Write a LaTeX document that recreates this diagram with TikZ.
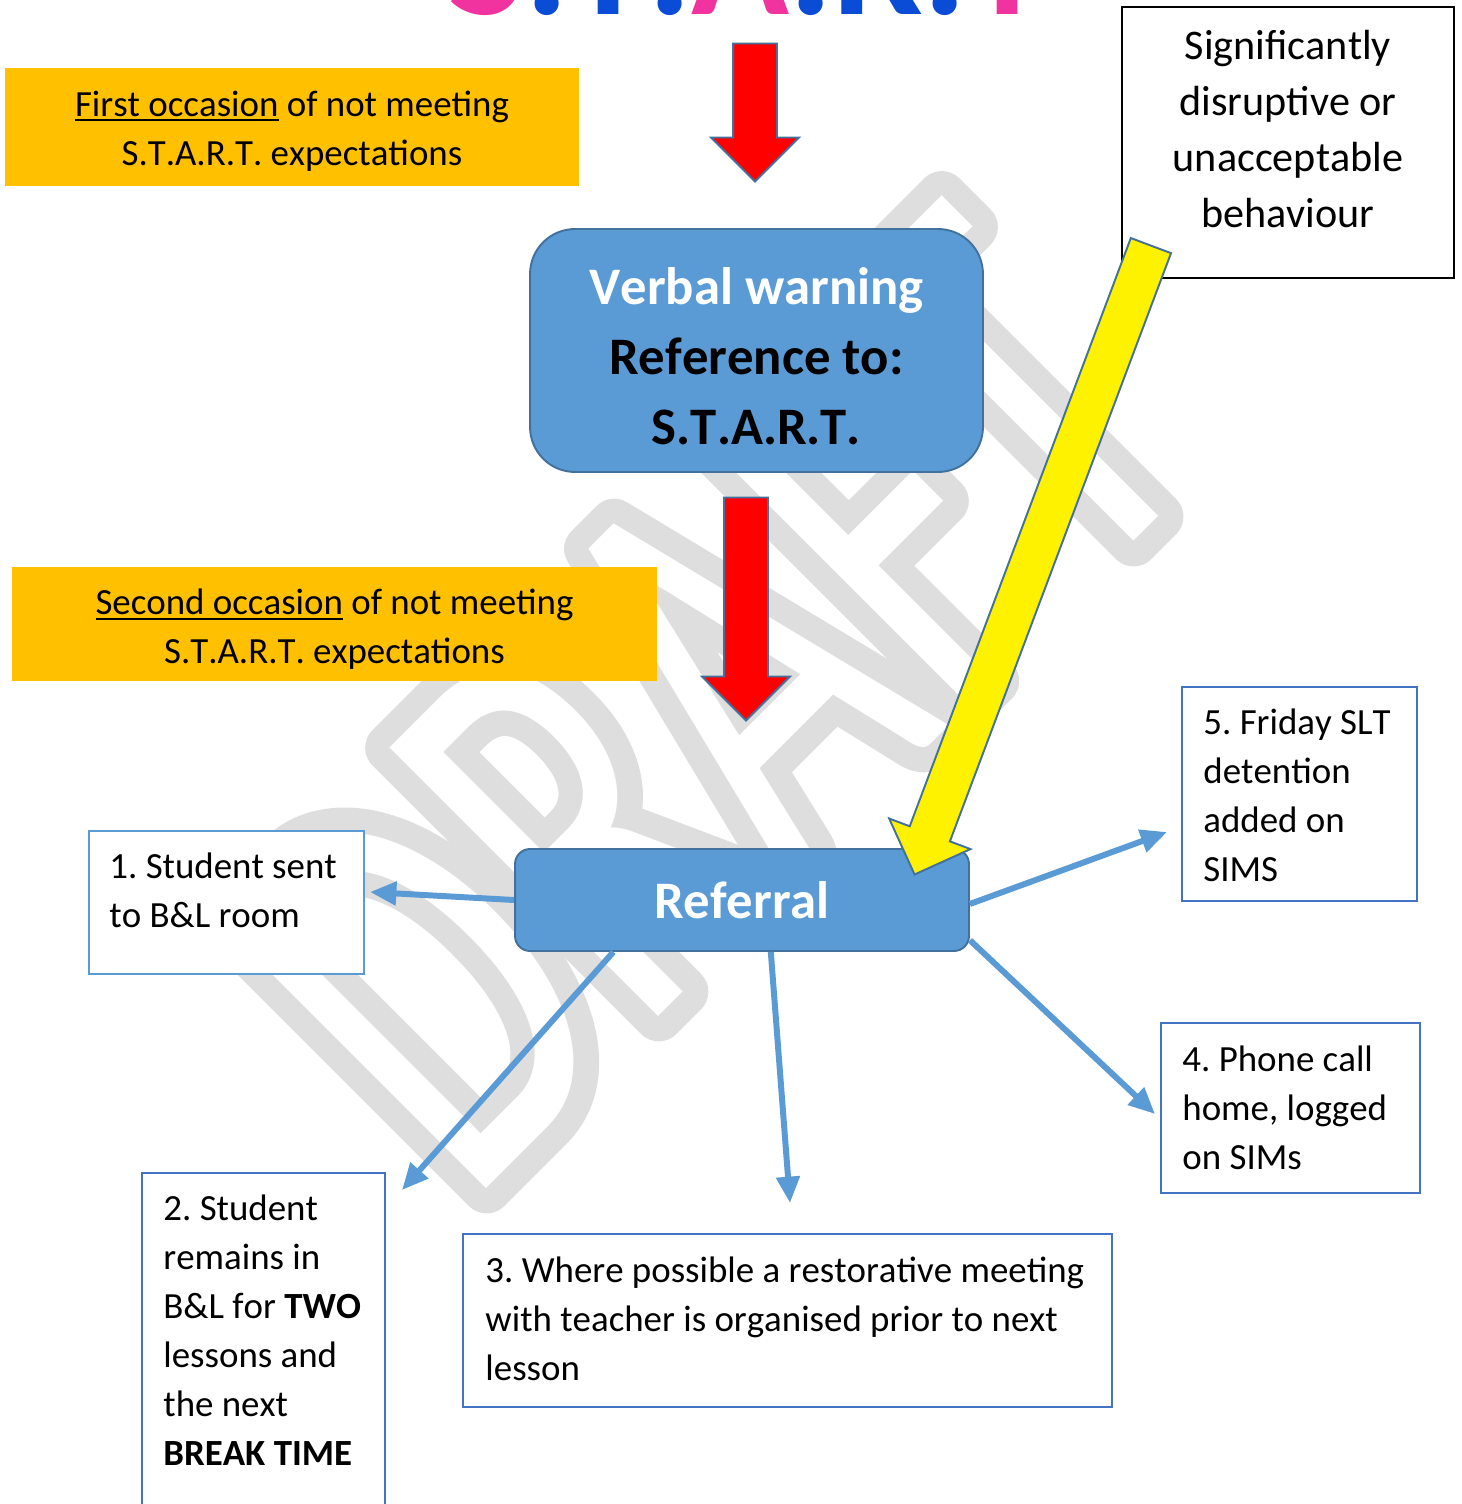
\documentclass[tikz,border=0pt]{standalone}
\usepackage{fontspec}
\setmainfont{Carlito}[Kerning=Off]
\newfontfamily\draftfont[FakeStretch=0.664]{Carlito}
\newfontfamily\draftrimfont[FakeStretch=0.664, FakeBold=8.4]{Carlito}
\usepackage{xcolor}
\usetikzlibrary{positioning, shapes.arrows, arrows.meta}
\frenchspacing

\definecolor{startyellow}{HTML}{FFC000}
\definecolor{warnblue}{HTML}{5B9BD5}
\definecolor{warnedge}{HTML}{41719C}
\definecolor{boxblue}{HTML}{4472C4}
\definecolor{startpink}{HTML}{F0339F}
\definecolor{startblue}{HTML}{0B4CD6}
\definecolor{draftgray}{HTML}{DEDEDE}
\newcommand{\occline}[1]{\leavevmode\vtop{\hbox{#1}\kern1.5pt\hrule height 1.3pt}}

\tikzset{
  draftmark/.style={rotate=45, inner sep=0pt, line join=round, font=\fontsize{337}{337}\selectfont},
  occasion/.style={fill=startyellow, inner sep=0pt},
  occasiontext/.style={inner sep=0pt, align=center, font=\fontsize{21}{27.9}\selectfont},
  warnbox/.style={draw=warnedge, fill=warnblue, line width=1.1pt, inner sep=0pt, align=center, font=\fontsize{30}{39.8}\selectfont\bfseries},
  stepbox/.style={draw=boxblue, fill=white, line width=1.1pt, inner sep=0pt},
  steptext/.style={inner sep=0pt, align=left, font=\fontsize{21}{27.9}\selectfont},
  blockarrow/.style={single arrow, draw=warnedge, line width=1.1pt, inner xsep=0pt, inner ysep=0.42cm, single arrow head extend=0.44cm},
  link/.style={draw=warnblue, line width=3.4pt, -{Triangle[length=15pt, width=13pt]}}
}

\begin{document}
\begin{tikzpicture}[x=0.02cm, y=-0.02cm]
  \useasboundingbox (0,0) rectangle (1462,1504);
  \clip (0,0) rectangle (1462,1504);

  % watermark: grey rim, white letters on top
  \node[draftmark, text=draftgray] (draftrim) at (706.5,700) {\draftrimfont DRAFT};
  \node[draftmark, text=white] (draft) at (draftrim.center) {\draftfont DRAFT};

  % title, cut by the top edge
  \node[anchor=base, inner sep=0pt, font=\fontsize{92}{92}\selectfont\bfseries] (start) at (748,15)
    {\textcolor{startpink}{S}\textcolor{startblue}{.T.}\textcolor{startpink}{A}\textcolor{startblue}{.R.}\textcolor{startpink}{T}};

  \node[occasion, minimum width=11.48cm, minimum height=2.36cm] (first) at (292,127) {};
  \node[occasiontext] (firsttext) at ([yshift=-0.08cm]first.center) {\occline{First occasion} of not meeting\\S.T.A.R.T. expectations};
  \node[occasion, minimum width=12.9cm, minimum height=2.28cm] (second) at (334.5,624) {};
  \node[occasiontext] (secondtext) at ([yshift=-0.11cm]second.center) {\occline{Second occasion} of not meeting\\S.T.A.R.T. expectations};

  \node[blockarrow, fill=red, rotate=-90, minimum height=2.76cm] (downa) at (755,101.5) {};
  \node[warnbox, rounded corners=0.9cm, minimum width=9.06cm, minimum height=4.86cm] (verbal) at (756.5,350.5) {};
  \node[warnbox, fill=none, draw=none] (verbaltext) at ([yshift=-0.12cm]verbal.center)
    {\textcolor{white}{Verbal warning}\\Reference to:\\S.T.A.R.T.};
  \node[blockarrow, fill=red, rotate=-90, minimum height=4.46cm] (downb) at (746,598) {};

  \node[draw=black, line width=1.1pt, fill=white, minimum width=6.64cm, minimum height=5.42cm] (behave) at (1288,142.5) {};
  \node[below=0.48cm of behave.north, inner sep=0pt, align=center, font=\fontsize{24}{31.9}\selectfont] (behavetext)
    {Significantly\\disruptive or\\unacceptable\\behaviour};

  % the five outcomes
  \node[stepbox, draw=warnblue, minimum width=5.5cm, minimum height=2.86cm] (sent) at (226.5,902.5) {};
  \node[steptext, below right=0.45cm and 0.42cm of sent.north west] (senttext) {1. Student sent\\to B\&L room};
  \node[stepbox, minimum width=4.86cm, minimum height=7.2cm] (remain) at (263.5,1353) {};
  \node[steptext, below right=0.45cm and 0.44cm of remain.north west] (remaintext)
    {2. Student\\remains in\\B\&L for \textbf{TWO}\\lessons and\\the next\\\textbf{BREAK TIME}};
  \node[stepbox, minimum width=12.98cm, minimum height=3.46cm] (meet) at (787.5,1320.5) {};
  \node[steptext, below right=0.47cm and 0.46cm of meet.north west] (meettext)
    {3. Where possible a restorative meeting\\with teacher is organised prior to next\\lesson};
  \node[stepbox, minimum width=5.18cm, minimum height=3.4cm] (phone) at (1290.5,1108) {};
  \node[steptext, below right=0.47cm and 0.44cm of phone.north west] (phonetext) {4. Phone call\\home, logged\\on SIMs};
  \node[stepbox, minimum width=4.7cm, minimum height=4.28cm] (slt) at (1299.5,794) {};
  \node[steptext, below right=0.45cm and 0.44cm of slt.north west] (slttext) {5. Friday SLT\\detention\\added on\\SIMS};

  \node[warnbox, rounded corners=0.3cm, minimum width=9.08cm, minimum height=2.04cm, text=white] (referral) at (742,900) {Referral};

  \coordinate (sentend) at (370,892);
  \coordinate (remainend) at (402,1190);
  \coordinate (meetend) at (790,1203);
  \coordinate (phoneend) at (1155,1114);
  \coordinate (sltend) at (1167,832);
  \draw[link] (referral.west) -- (sentend);
  \draw[link] (referral.202) -- (remainend);
  \draw[link] (referral.-61.2) -- (meetend);
  \draw[link] (referral.-10.1) -- (phoneend);
  \draw[link] (referral.-1.3) -- (sltend);

  \node[blockarrow, fill=yellow, rotate=-110.6, minimum height=13.44cm, inner ysep=0.41cm] (jump) at (1036.5,550) {};
\end{tikzpicture}
\end{document}
